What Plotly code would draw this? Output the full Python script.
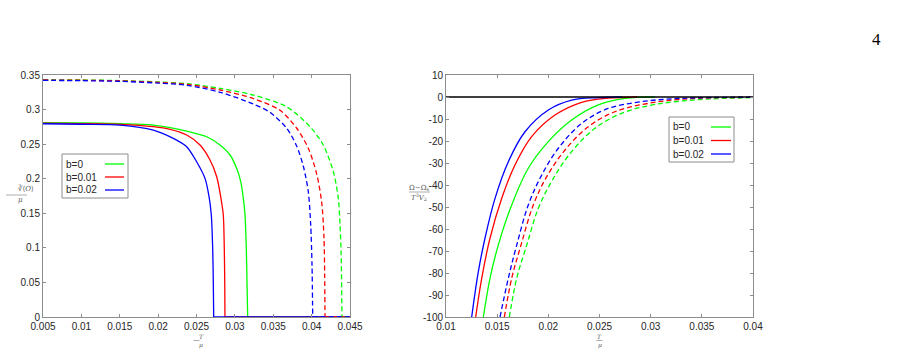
import plotly.graph_objects as go

W, H = 905, 355

# ---------------- Left panel data: condensate vs T/mu ----------------
b_labels = ["b=0", "b=0.01", "b=0.02"]
colors = ["#00ff00", "#ff0000", "#0000ff"]

left_solid_x = [
    [0.005, 0.010, 0.01503, 0.01937, 0.02372, 0.02633, 0.02806, 0.02937, 0.03023, 0.03076, 0.0311, 0.03132, 0.03149, 0.03158, 0.03167, 0.045],
    [0.005, 0.010, 0.01503, 0.01937, 0.02155, 0.02372, 0.02546, 0.02676, 0.02763, 0.02819, 0.02849, 0.02862, 0.02868, 0.02871, 0.045],
    [0.005, 0.010, 0.01503, 0.01937, 0.02198, 0.02372, 0.02502, 0.02611, 0.02667, 0.02693, 0.02711, 0.02719, 0.02724, 0.045],
]
left_solid_y = [
    [0.2812, 0.2806, 0.2796, 0.2776, 0.2690, 0.2607, 0.2487, 0.2343, 0.2150, 0.1957, 0.1716, 0.1475, 0.0993, 0.0510, 0.0, 0.0],
    [0.2805, 0.2798, 0.2786, 0.2752, 0.2714, 0.2632, 0.2487, 0.2270, 0.2029, 0.1716, 0.1475, 0.0993, 0.0500, 0.0, 0.0],
    [0.2795, 0.2788, 0.2776, 0.2704, 0.2584, 0.2463, 0.2246, 0.2005, 0.1716, 0.1475, 0.0993, 0.0500, 0.0, 0.0],
]
left_dash_x = [
    [0.005, 0.010, 0.015, 0.020, 0.0237, 0.0281, 0.0324, 0.03675, 0.03979, 0.04152, 0.04283, 0.04348, 0.0437, 0.04385, 0.04395, 0.045],
    [0.005, 0.010, 0.015, 0.020, 0.0237, 0.0281, 0.0324, 0.03588, 0.03806, 0.03957, 0.04066, 0.04131, 0.04161, 0.04170, 0.04174, 0.045],
    [0.005, 0.010, 0.015, 0.020, 0.0237, 0.0281, 0.0324, 0.03458, 0.03675, 0.03806, 0.03892, 0.03957, 0.03988, 0.04005, 0.04014, 0.045],
]
left_dash_y = [
    [0.3432, 0.3428, 0.3420, 0.3400, 0.3375, 0.3307, 0.3210, 0.3040, 0.2752, 0.2487, 0.2101, 0.1716, 0.1331, 0.0900, 0.0, 0.0],
    [0.3428, 0.3424, 0.3415, 0.3393, 0.3365, 0.3283, 0.3160, 0.2990, 0.2730, 0.2440, 0.2070, 0.1660, 0.1150, 0.0600, 0.0, 0.0],
    [0.3422, 0.3418, 0.3408, 0.3383, 0.3352, 0.3250, 0.3080, 0.2960, 0.2730, 0.2470, 0.2180, 0.1810, 0.1330, 0.0750, 0.0, 0.0],
]

# ---------------- Right panel data: free energy difference ----------------
right_solid_x = [
    [0.01365, 0.0143, 0.01511, 0.01642, 0.01804, 0.0200, 0.02228, 0.02488, 0.02749, 0.03042],
    [0.0129, 0.01349, 0.0143, 0.01544, 0.01674, 0.01837, 0.02065, 0.02326, 0.02586, 0.0287],
    [0.01251, 0.01316, 0.01381, 0.01479, 0.01609, 0.01772, 0.0200, 0.02228, 0.02488, 0.0272],
]
right_solid_y = [
    [-100, -82.4, -67.3, -49.1, -32.4, -20.3, -10.5, -3.6, -0.6, 0.0],
    [-100, -82.4, -64.2, -46.1, -30.9, -18.0, -8.2, -2.4, -0.5, 0.0],
    [-100, -79.4, -64.2, -46.1, -29.4, -15.8, -5.9, -1.4, -0.3, 0.0],
]
right_dash_x = [
    [0.01619, 0.01691, 0.01789, 0.01902, 0.02049, 0.02228, 0.02456, 0.02717, 0.03042, 0.03466, 0.0400],
    [0.0157, 0.01642, 0.01733, 0.01853, 0.01984, 0.02163, 0.0239, 0.02651, 0.02977, 0.03368, 0.0400],
    [0.01528, 0.01609, 0.01691, 0.01804, 0.01935, 0.02098, 0.02326, 0.02586, 0.02912, 0.03303, 0.0400],
]
right_dash_y = [
    [-100, -82.4, -67.3, -50.6, -37.0, -24.8, -14.2, -7.4, -3.4, -1.2, -0.3],
    [-100, -82.4, -67.3, -49.1, -36.2, -24.1, -13.5, -6.7, -2.9, -0.8, -0.2],
    [-100, -82.4, -67.3, -49.1, -35.5, -23.3, -12.0, -5.2, -2.1, -0.6, -0.1],
]
zero_x = [0.01, 0.04]
zero_y = [0, 0]

left_xticks = [0.005, 0.01, 0.015, 0.02, 0.025, 0.03, 0.035, 0.04, 0.045]
left_yticks = [0, 0.05, 0.1, 0.15, 0.2, 0.25, 0.3, 0.35]
right_xticks = [0.01, 0.015, 0.02, 0.025, 0.03, 0.035, 0.04]
right_yticks = [-100, -90, -80, -70, -60, -50, -40, -30, -20, -10, 0, 10]

fig = go.Figure()
DASH = "5px,3px"
LW = 1.3


def add_left(xs, ys, color, dash):
    # smooth part up to the critical point, then straight zero tail
    fig.add_trace(go.Scatter(x=xs[:-1], y=ys[:-1], mode="lines", line_shape="spline",
                             line=dict(color=color, width=LW, dash=dash, smoothing=0.8),
                             xaxis="x", yaxis="y", showlegend=False, cliponaxis=True))
    fig.add_trace(go.Scatter(x=xs[-2:], y=ys[-2:], mode="lines",
                             line=dict(color=color, width=LW, dash=dash),
                             xaxis="x", yaxis="y", showlegend=False))


for i in range(3):
    add_left(left_solid_x[i], left_solid_y[i], colors[i], "solid")
for i in range(3):
    add_left(left_dash_x[i], left_dash_y[i], colors[i], DASH)
for i in range(3):
    fig.add_trace(go.Scatter(x=right_solid_x[i], y=right_solid_y[i], mode="lines", line_shape="spline",
                             line=dict(color=colors[i], width=LW), xaxis="x2", yaxis="y2", showlegend=False))
for i in range(3):
    fig.add_trace(go.Scatter(x=right_dash_x[i], y=right_dash_y[i], mode="lines", line_shape="spline",
                             line=dict(color=colors[i], width=LW, dash=DASH), xaxis="x2", yaxis="y2", showlegend=False))
fig.add_trace(go.Scatter(x=zero_x, y=zero_y, mode="lines", line=dict(color="black", width=1.3),
                         xaxis="x2", yaxis="y2", showlegend=False))


def px(x):
    return x / W


def py(y):
    return 1 - y / H


tickfont = dict(family="Liberation Sans, Arial", size=10, color="#262626")
axcommon = dict(showgrid=False, zeroline=False, showline=True, linecolor="#8c8c8c", linewidth=1,
                mirror="ticks", ticks="inside", ticklen=3, tickcolor="#8c8c8c", tickfont=tickfont,
                automargin=False)

fig.update_layout(
    template="none",
    width=W, height=H, margin=dict(l=0, r=0, t=0, b=0),
    paper_bgcolor="white", plot_bgcolor="white",
    xaxis=dict(domain=[px(43), px(350)], range=[0.005, 0.045], tickvals=left_xticks,
               ticktext=[f"{v:g}" for v in left_xticks], anchor="y", **axcommon),
    yaxis=dict(domain=[py(317), py(75)], range=[0, 0.35], tickvals=left_yticks,
               ticktext=[f"{v:g}" for v in left_yticks], anchor="x", **axcommon),
    xaxis2=dict(domain=[px(446), px(753)], range=[0.01, 0.04], tickvals=right_xticks,
                ticktext=[f"{v:g}" for v in right_xticks], anchor="y2", **axcommon),
    yaxis2=dict(domain=[py(317), py(75)], range=[-100, 10], tickvals=right_yticks,
                ticktext=[f"{v:g}" for v in right_yticks], anchor="x2", **axcommon),
)

shapes = []
annotations = []

# page number
annotations.append(dict(x=px(883), y=py(28), xref="paper", yref="paper", text="4", showarrow=False,
                        font=dict(family="Liberation Serif", size=17, color="black")))


# legends (MATLAB-style: text left, line sample right)
def legend(x0, y0, x1, y1, rows, tx, lx0, lx1):
    shapes.append(dict(type="rect", xref="paper", yref="paper", x0=px(x0), x1=px(x1), y0=py(y1), y1=py(y0),
                       line=dict(color="#8c8c8c", width=1), fillcolor="white", layer="above"))
    for i, ry in enumerate(rows):
        annotations.append(dict(x=px(tx), y=py(ry), xref="paper", yref="paper", text=b_labels[i],
                                showarrow=False, xanchor="left", yanchor="middle",
                                font=dict(family="Liberation Sans, Arial", size=10, color="#262626")))
        shapes.append(dict(type="line", xref="paper", yref="paper", x0=px(lx0), x1=px(lx1), y0=py(ry), y1=py(ry),
                           line=dict(color=colors[i], width=LW), layer="above"))


legend(62, 154, 128, 198, [164, 177, 190], 64, 105, 124)
legend(669, 117, 734, 162, [127, 140.5, 154], 671, 711, 731)

mathfont = dict(family="DejaVu Serif", size=7, color="#555555")

# left y label: cube-root<O> / mu
annotations.append(dict(x=px(16), y=py(189), xref="paper", yref="paper", text="∛⟨<i>O</i>⟩",
                        showarrow=False, font=mathfont))
shapes.append(dict(type="line", xref="paper", yref="paper", x0=px(6), x1=px(27), y0=py(195), y1=py(195),
                   line=dict(color="#777777", width=0.6)))
annotations.append(dict(x=px(16), y=py(200), xref="paper", yref="paper", text="<i>μ</i>",
                        showarrow=False, font=mathfont))

# right y label: (Omega - Omega_s) / (T^3 V_2)
annotations.append(dict(x=px(419), y=py(188), xref="paper", yref="paper", text="Ω−Ω<sub>s</sub>",
                        showarrow=False, font=mathfont))
shapes.append(dict(type="line", xref="paper", yref="paper", x0=px(409), x1=px(430), y0=py(192), y1=py(192),
                   line=dict(color="#777777", width=0.6)))
annotations.append(dict(x=px(419), y=py(197), xref="paper", yref="paper", text="<i>T</i><sup>3</sup><i>V</i><sub>2</sub>",
                        showarrow=False, font=mathfont))

# x labels T / mu
for cx in (196.5, 599.5):
    annotations.append(dict(x=px(cx), y=py(336.5), xref="paper", yref="paper", text="<i>T</i>",
                            showarrow=False, yanchor="middle", font=dict(family="DejaVu Serif", size=6, color="#555555")))
    shapes.append(dict(type="line", xref="paper", yref="paper", x0=px(cx - 3), x1=px(cx + 3), y0=py(340.5), y1=py(340.5),
                       line=dict(color="#777777", width=0.6)))
    annotations.append(dict(x=px(cx), y=py(345), xref="paper", yref="paper", text="<i>μ</i>",
                            showarrow=False, yanchor="middle", font=dict(family="DejaVu Serif", size=6, color="#555555")))

fig.update_layout(shapes=shapes, annotations=annotations)
fig.write_html("out.html")
